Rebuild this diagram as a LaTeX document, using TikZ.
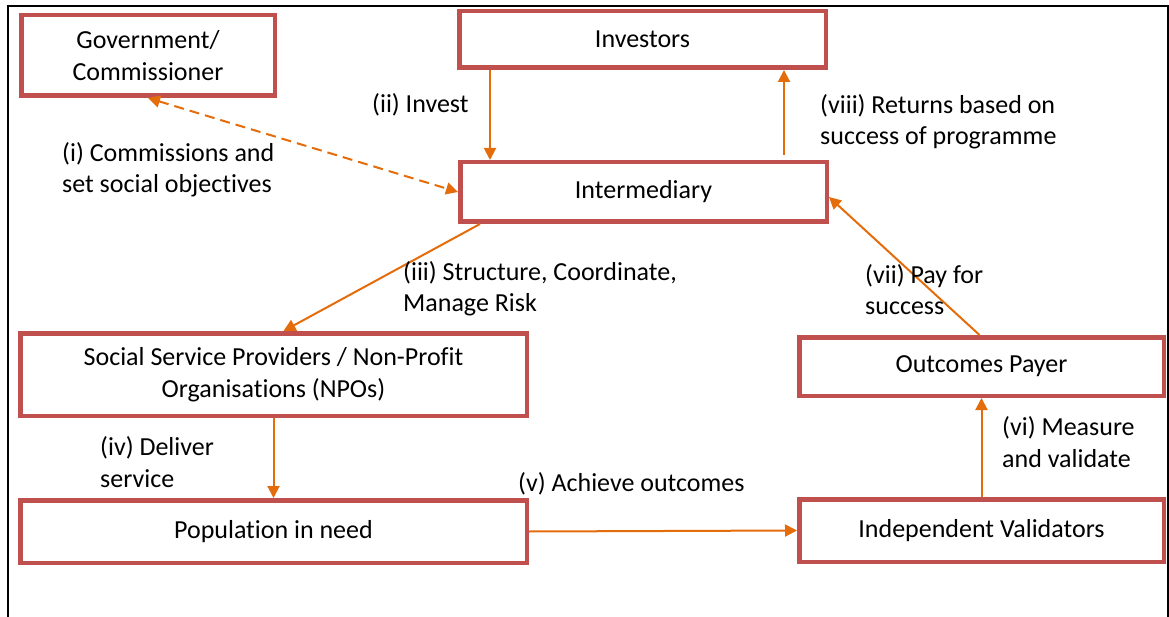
\documentclass[tikz,border=0pt]{standalone}
\usepackage{fontspec}
\setmainfont{Carlito}[Ligatures=NoCommon]
\usepackage{xcolor}
\usepackage{tikz}
\usetikzlibrary{calc}
\usetikzlibrary{arrows.meta}
\usetikzlibrary{positioning}
\definecolor{boxred}{HTML}{C0504D}
\definecolor{flowor}{HTML}{E46C0A}
\tikzset{>={Triangle[length=12pt,width=12pt]}}
\tikzset{box/.style = {draw=boxred, line width=4.5pt, inner sep=0, align=center, font=\fontsize{26}{32.5}\selectfont}}
\tikzset{flow/.style = {->, draw=flowor, line width=2pt}}
\tikzset{lbl/.style = {draw=none, inner sep=0, anchor=base west, align=left, font=\fontsize{26}{31.5}\selectfont}}

\begin{document}
\begin{tikzpicture}[x=1pt, y=-1pt]
\useasboundingbox (0, 0) rectangle (1169, 617);
\draw [line width=2pt] (8, 617) -- (8, 6) -- (1168, 6) -- (1168, 617);
% boxes
\node [box, minimum width=253.5pt, minimum height=80.5pt] (gov) at (148, 55.5) {Government/\\Commissioner};
\node [box, minimum width=366.5pt, minimum height=56.5pt] (inv) at (642.5, 39.5) {Investors};
\node [box, minimum width=366.5pt, minimum height=59.5pt] (mid) at (643.5, 192) {Intermediary};
\node [box, minimum width=506.5pt, minimum height=82.5pt] (ssp) at (273.5, 374.5) {Social Service Providers / Non-Profit\\Organisations (NPOs)};
\node [box, minimum width=506.5pt, minimum height=62.5pt] (pop) at (273.5, 531.5) {Population in need};
\node [box, minimum width=364.5pt, minimum height=58.5pt] (pay) at (981.5, 366.5) {Outcomes Payer};
\node [box, minimum width=364.5pt, minimum height=62.5pt] (val) at (981.5, 530.5) {Independent Validators};
% connectors
\draw [flow, <->, dash pattern=on 10pt off 6pt] (gov.south) to (mid.west);
\draw [flow] ([xshift=33pt]inv.south west) to ([xshift=32pt]mid.north west);
\draw [flow] ([xshift=-45pt, yshift=5pt]mid.north east) to ([xshift=-44pt]inv.south east);
\draw [flow] ([xshift=22pt]mid.south west) to ([xshift=10pt]ssp.north);
\draw [flow] (ssp.south) to (pop.north);
\draw [flow] (pop.east) to (val.west);
\draw [flow] (val.north) to (pay.north |- pay.south);
\draw [flow] ([xshift=-2pt]pay.north) to ([yshift=-5pt]mid.east);
% labels (base = last line)
\node [lbl] (t1) at (62, 193) {(i) Commissions and\\set social objectives};
\node [lbl] (t2) at (372, 113) {(ii) Invest};
\node [lbl] (t3) at (403, 312) {(iii) Structure, Coordinate,\\Manage Risk};
\node [lbl] (t4) at (100, 487) {(iv) Deliver\\service};
\node [lbl] (t5) at (518, 491) {(v) Achieve outcomes};
\node [lbl] (t6) at (1002, 467) {(vi) Measure\\and validate};
\node [lbl] (t7) at (865, 315) {(vii) Pay for\\success};
\node [lbl] (t8) at (820, 145) {(viii) Returns based on\\success of programme};
\end{tikzpicture}
\end{document}
